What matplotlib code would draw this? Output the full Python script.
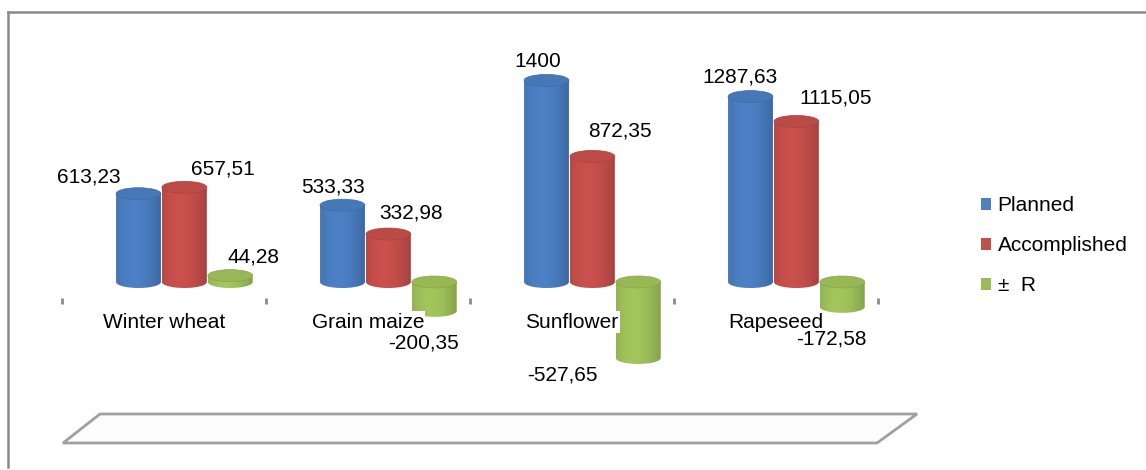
import numpy as np
import matplotlib.pyplot as plt
from matplotlib.colors import to_rgb
from matplotlib.patches import Ellipse, PathPatch, Polygon, Patch
from matplotlib.path import Path
from matplotlib.lines import Line2D

plt.rcParams['font.family'] = ['Liberation Sans', 'DejaVu Sans']

# data
crops = ["Winter wheat", "Grain maize", "Sunflower", "Rapeseed"]
series = ["Planned", "Accomplished", "±  R"]
planned = [613.23, 533.33, 1400, 1287.63]
accomplished = [657.51, 332.98, 872.35, 1115.05]
diff = [44.28, -200.35, -527.65, -172.58]
colors = ["#4A7EC2", "#C64F4B", "#A0C25A"]

# label nudges in pixels (dx, dy) per series / crop, Excel puts them oddly
nudge = [
    [(-50, 17), (-9, 18), (-9, 19), (-11, 20)],
    [(38, 18), (23, 21), (28, 25), (39, 23)],
    [(23, 19), (-11, -32), (-76, -17), (-11, -32)],
]

W_PX, H_PX = 1146, 470
fig = plt.figure(figsize=(W_PX / 100, H_PX / 100), dpi=100)
ax = fig.add_axes([0, 0, 1, 1])
ax.set_axis_off()

cat_px = 204.0      # pixels per category
x0_px = 164.0       # first category centre
y0_px = 282.0       # zero level from top
scale = 0.144       # pixels per unit
ax.set_xlim(-x0_px / cat_px, (W_PX - x0_px) / cat_px)
ax.set_ylim(-(H_PX - y0_px) / scale, y0_px / scale)

bar_w = 0.22
offsets = [-0.125, 0.10, 0.325]
ell_h = 12 / scale


def shade(base, t):
    base = np.array(to_rgb(base))
    # soft cylinder lighting, darker at both edges
    k = 0.86 + 0.16 * np.cos((t - 0.4) * np.pi * 0.9)
    return np.clip(base[None, :] * k[:, None], 0, 1)


def cylinder(xc, v, color, z):
    lo, hi = min(0, v), max(0, v)
    xl, xr = xc - bar_w / 2, xc + bar_w / 2
    # body: sides + bottom half ellipse
    th = np.linspace(np.pi, 2 * np.pi, 40)
    arc = np.column_stack([xc + bar_w / 2 * np.cos(th), lo + ell_h / 2 * np.sin(th)])
    verts = np.vstack([[xl, hi], arc, [xr, hi], [xl, hi]])
    clip = PathPatch(Path(verts), facecolor="none", edgecolor="none")
    ax.add_patch(clip)
    img = shade(color, np.linspace(0, 1, 64))[None, :, :]
    im = ax.imshow(img, extent=(xl, xr, lo - ell_h / 2, hi), aspect="auto",
                   interpolation="bilinear", zorder=z)
    im.set_clip_path(clip)
    # top cap
    top = np.array(to_rgb(color)) * 0.95
    ax.add_patch(Ellipse((xc, hi), bar_w, ell_h, facecolor=top,
                         edgecolor=np.array(to_rgb(color)) * 0.85, lw=0.5,
                         zorder=z + 0.1))


def fmt(v):
    return ("%.2f" % v).replace(".", ",") if v != int(v) else str(int(v))


values = [planned, accomplished, diff]
for j, vals in enumerate(values):
    for i, v in enumerate(vals):
        xc = i + offsets[j]
        cylinder(xc, v, colors[j], 3 + j)
        dx, dy = nudge[j][i]
        ax.annotate(fmt(v), (xc, v), xytext=(dx, dy), textcoords="offset pixels",
                    ha="center", va="center", fontsize=15, zorder=10)

# category labels and tick marks
for i, name in enumerate(crops):
    ax.text(i, -40 / scale, name, ha="center", va="center", fontsize=15,
            zorder=9, bbox=dict(boxstyle="square,pad=0.05", fc="white", ec="none"))
ticks = np.arange(len(crops) + 1) - 0.5
ax.plot(ticks, np.full(len(ticks), -19 / scale), ls="none", marker="|",
        ms=5, mew=2, color="#8c8c8c", zorder=2)

# floor
fl = [(63, 443), (100, 414), (917, 414), (877, 443)]
fl = [(x / W_PX, 1 - y / H_PX) for x, y in fl]
fig.patches.append(Polygon(fl, closed=True, transform=fig.transFigure,
                           facecolor="#fdfdfd", edgecolor="#a0a0a0", lw=2))

# chart border (left + top)
fig.add_artist(Line2D([7.5 / W_PX, 7.5 / W_PX], [1 - 467 / H_PX, 1 - 12 / H_PX],
                      transform=fig.transFigure, color="#8a8a8a", lw=1.8))
fig.add_artist(Line2D([7.5 / W_PX, 1], [1 - 12 / H_PX, 1 - 12 / H_PX],
                      transform=fig.transFigure, color="#8a8a8a", lw=1.8))

handles = [Patch(facecolor=c, edgecolor="none") for c in ["#4F81BD", "#C0504D", "#9BBB59"]]
ax.legend(handles, series, loc="upper left", bbox_to_anchor=(981 / W_PX, 1 - 196 / H_PX),
          bbox_transform=fig.transFigure, frameon=False, fontsize=15,
          handlelength=0.5, handleheight=0.5, handletextpad=0.3,
          labelspacing=1.02, borderpad=0, borderaxespad=0)

fig.savefig("out.png", dpi=100)
